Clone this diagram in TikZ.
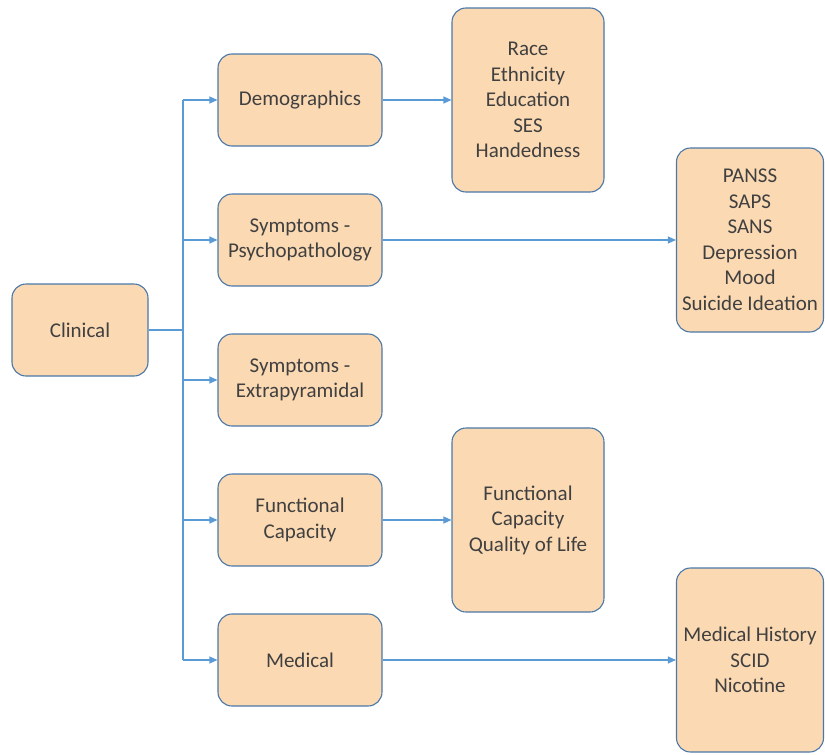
\documentclass[tikz,border=0pt]{standalone}
\usepackage{fontspec}
\setmainfont{Carlito}
\usetikzlibrary{arrows.meta}
\definecolor{boxfill}{HTML}{FBD9B3}
\definecolor{boxline}{HTML}{4A78A8}
\definecolor{arrowblue}{HTML}{5B9BD5}
\definecolor{txt}{HTML}{404040}
\begin{document}
\begin{tikzpicture}[x=1pt,y=-1pt,
  box/.style={draw=boxline,fill=boxfill,line width=1.1pt,rounded corners=14pt,align=center,
    text=txt,font=\fontsize{21}{25.5}\selectfont,inner sep=0pt},
  conn/.style={draw=arrowblue,line width=1.1pt},
  arr/.style={conn,-{Triangle[length=8pt,width=7pt]}}]
\useasboundingbox (0,0) rectangle (825,755);
\node[box,minimum width=136pt,minimum height=92pt] (clin) at (80,330) {Clinical};
\node[box,minimum width=164pt,minimum height=92pt] (demo) at (300,100) {Demographics};
\node[box,minimum width=164pt,minimum height=92pt] (psy) at (300,240) {Symptoms -\\Psychopathology};
\node[box,minimum width=164pt,minimum height=92pt] (extra) at (300,380) {Symptoms -\\Extrapyramidal};
\node[box,minimum width=164pt,minimum height=92pt] (func) at (300,520) {Functional\\Capacity};
\node[box,minimum width=164pt,minimum height=92pt] (med) at (300,660) {Medical};
\node[box,minimum width=152pt,minimum height=184pt] (race) at (528,100) {Race\\Ethnicity\\Education\\SES\\Handedness};
\node[box,minimum width=147pt,minimum height=184pt] (panss) at (750,240) {PANSS\\SAPS\\SANS\\Depression\\Mood\\Suicide Ideation};
\node[box,minimum width=152pt,minimum height=184pt] (fcq) at (528,520) {Functional\\Capacity\\Quality of Life};
\node[box,minimum width=147pt,minimum height=184pt] (mh) at (750,660) {Medical History\\SCID\\Nicotine};
\coordinate (tj) at (183,330);
\coordinate (ttop) at (183,100);
\coordinate (tbot) at (183,660);
\draw[conn] (clin.east) -- (tj);
\draw[conn] (ttop) -- (tbot);
\draw[arr] (ttop) -- (demo.west);
\draw[arr] (183,240) -- (psy.west);
\draw[arr] (183,380) -- (extra.west);
\draw[arr] (183,520) -- (func.west);
\draw[arr] (tbot) -- (med.west);
\draw[arr] (demo.east) -- (race.west);
\draw[arr] (psy.east) -- (panss.west);
\draw[arr] (func.east) -- (fcq.west);
\draw[arr] (med.east) -- (mh.west);
\end{tikzpicture}
\end{document}
